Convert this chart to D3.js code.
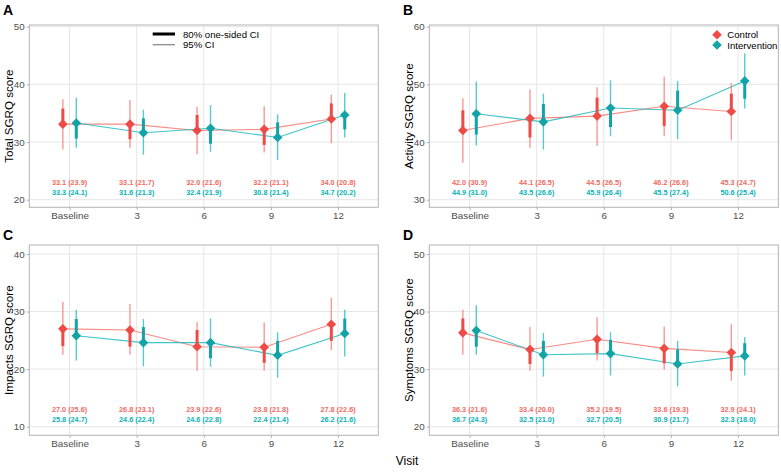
<!DOCTYPE html>
<html>
<head>
<meta charset="utf-8">
<script src="https://cdn.jsdelivr.net/npm/d3@7"></script>
<style>
  html, body { margin: 0; padding: 0; background: #ffffff; }
  svg { display: block; font-family: "Liberation Sans", Arial, Helvetica, sans-serif; }
</style>
</head>
<body>
<svg id="chart" width="781" height="472"></svg>
<script>
// ---------------- DATA ----------------
const visits = ["Baseline", "3", "6", "9", "12"];
const groups = ["Control", "Intervention"];
const legendCI = ["80% one-sided CI", "95% CI"];

// Total SGRQ
const totalCtrlMean = [33.1, 33.1, 32.0, 32.2, 34.0];
const totalCtrlSD   = [23.9, 21.7, 21.6, 21.1, 20.8];
const totalCtrlLo95 = [28.7, 29.0, 27.9, 28.2, 29.8];
const totalCtrlHi95 = [37.4, 37.3, 36.1, 36.2, 38.2];
const totalCtrl80   = [35.8, 30.5, 34.7, 29.5, 36.7];
const totalIntMean  = [33.3, 31.6, 32.4, 30.8, 34.7];
const totalIntSD    = [24.1, 21.3, 21.9, 21.4, 20.2];
const totalIntLo95  = [29.0, 27.8, 28.3, 26.9, 30.8];
const totalIntHi95  = [37.7, 35.6, 36.4, 34.8, 38.5];
const totalInt80    = [30.6, 34.1, 29.7, 33.4, 32.2];
const totalTicks    = [20, 30, 40, 50];

// Activity SGRQ
const actCtrlMean = [42.0, 44.1, 44.5, 46.2, 45.3];
const actCtrlSD   = [30.9, 26.5, 26.5, 26.6, 24.7];
const actCtrlLo95 = [36.4, 39.0, 39.3, 41.0, 40.3];
const actCtrlHi95 = [47.6, 49.1, 49.5, 51.3, 50.2];
const actCtrl80   = [45.5, 40.8, 47.7, 42.8, 48.4];
const actIntMean  = [44.9, 43.5, 45.9, 45.5, 50.6];
const actIntSD    = [31.0, 26.6, 26.4, 27.4, 25.4];
const actIntLo95  = [39.4, 38.7, 41.0, 40.5, 45.8];
const actIntHi95  = [50.5, 48.4, 50.7, 50.6, 55.4];
const actInt80    = [41.3, 46.6, 42.6, 48.9, 47.5];
const actTicks    = [30, 40, 50, 60];

// Impacts SGRQ
const impCtrlMean = [27.0, 26.8, 23.9, 23.8, 27.8];
const impCtrlSD   = [25.6, 23.1, 22.6, 21.8, 22.6];
const impCtrlLo95 = [22.5, 22.5, 19.7, 19.7, 23.3];
const impCtrlHi95 = [31.7, 31.3, 28.2, 28.1, 32.4];
const impCtrl80   = [24.0, 23.9, 26.8, 21.1, 24.9];
const impIntMean  = [25.8, 24.6, 24.6, 22.4, 26.2];
const impIntSD    = [24.7, 22.4, 22.8, 21.4, 21.6];
const impIntLo95  = [21.5, 20.5, 20.4, 18.5, 22.2];
const impIntHi95  = [30.3, 28.7, 28.8, 26.4, 30.3];
const impInt80    = [28.7, 27.3, 21.9, 24.9, 28.8];
const impTicks    = [10, 20, 30, 40];

// Symptoms SGRQ
const symCtrlMean = [36.3, 33.4, 35.2, 33.6, 32.9];
const symCtrlSD   = [21.6, 20.0, 19.5, 19.3, 24.1];
const symCtrlLo95 = [32.5, 29.7, 31.5, 29.9, 28.0];
const symCtrlHi95 = [40.3, 37.3, 39.0, 37.4, 37.8];
const symCtrl80   = [38.8, 30.9, 32.8, 31.0, 29.7];
const symIntMean  = [36.7, 32.5, 32.7, 30.9, 32.3];
const symIntSD    = [24.3, 21.0, 20.5, 21.7, 18.0];
const symIntLo95  = [32.5, 28.7, 28.9, 27.0, 28.9];
const symIntHi95  = [41.1, 36.3, 36.4, 34.9, 35.6];
const symInt80    = [33.9, 34.9, 35.1, 33.4, 34.5];
const symTicks    = [20, 30, 40, 50];

// ---------------- STYLE / LAYOUT ----------------
const colPoint = { Control: "#EF4A46", Intervention: "#11A3A6" };
const colLine  = { Control: "#F8766D", Intervention: "#1FBABD" };
const colText  = { Control: "#F26A63", Intervention: "#08B2B6" };

const panels = [
  { letter: "A", title: "Total SGRQ score", ticks: totalTicks,
    ctrl: [totalCtrlMean, totalCtrlSD, totalCtrlLo95, totalCtrlHi95, totalCtrl80],
    int:  [totalIntMean, totalIntSD, totalIntLo95, totalIntHi95, totalInt80],
    left: 29.3, right: 378.3, top: 25, bottom: 207.3, tickTopPx: 26.7, tickBotPx: 199.7, ox: 0, letterY: 15 },
  { letter: "B", title: "Activity SGRQ score", ticks: actTicks,
    ctrl: [actCtrlMean, actCtrlSD, actCtrlLo95, actCtrlHi95, actCtrl80],
    int:  [actIntMean, actIntSD, actIntLo95, actIntHi95, actInt80],
    left: 429.3, right: 778.3, top: 25, bottom: 207.3, tickTopPx: 26.7, tickBotPx: 199.7, ox: 400, letterY: 15 },
  { letter: "C", title: "Impacts SGRQ score", ticks: impTicks,
    ctrl: [impCtrlMean, impCtrlSD, impCtrlLo95, impCtrlHi95, impCtrl80],
    int:  [impIntMean, impIntSD, impIntLo95, impIntHi95, impInt80],
    left: 29.3, right: 378.3, top: 245, bottom: 435.3, tickTopPx: 254, tickBotPx: 426.7, ox: 0, letterY: 239.5 },
  { letter: "D", title: "Symptoms SGRQ score", ticks: symTicks,
    ctrl: [symCtrlMean, symCtrlSD, symCtrlLo95, symCtrlHi95, symCtrl80],
    int:  [symIntMean, symIntSD, symIntLo95, symIntHi95, symInt80],
    left: 429.3, right: 778.3, top: 245, bottom: 435.3, tickTopPx: 254, tickBotPx: 426.7, ox: 400, letterY: 239.5 }
];

const svg = d3.select("#chart");
const diamond = (s) => `M0,${-s}L${s},0L0,${s}L${-s},0Z`;

panels.forEach(p => {
  const g = svg.append("g");
  const tMin = d3.min(p.ticks), tMax = d3.max(p.ticks);
  const y = d3.scaleLinear().domain([tMin, tMax]).range([p.tickBotPx, p.tickTopPx]);
  const step = (p.right - p.left) / 5.2;
  const x = d3.scalePoint().domain(visits).range([p.left + 0.6 * step, p.right - 0.6 * step]);
  const dodge = { Control: -0.1 * step, Intervention: 0.1 * step };

  // grid
  g.selectAll(".hg").data(p.ticks).enter().append("line")
    .attr("x1", p.left).attr("x2", p.right)
    .attr("y1", d => y(d)).attr("y2", d => y(d))
    .attr("stroke", "#E6E6E6").attr("stroke-width", 1);
  g.selectAll(".vg").data(visits).enter().append("line")
    .attr("x1", d => x(d)).attr("x2", d => x(d))
    .attr("y1", p.top).attr("y2", p.bottom)
    .attr("stroke", "#E6E6E6").attr("stroke-width", 1);

  // axes
  const yAxis = d3.axisLeft(y).tickValues(p.ticks).tickSize(2.7).tickPadding(2.0);
  const ya = g.append("g").attr("transform", `translate(${p.left},0)`).call(yAxis);
  const xAxis = d3.axisBottom(x).tickSize(2.7).tickPadding(2.2);
  const xa = g.append("g").attr("transform", `translate(0,${p.bottom})`).call(xAxis);
  [ya, xa].forEach(a => {
    a.select(".domain").remove();
    a.selectAll(".tick line").attr("stroke", "#B3B3B3");
    a.selectAll(".tick text").attr("fill", "#4D4D4D")
      .style("font-size", "9.8px").style("font-family", "'Liberation Sans', Arial, sans-serif");
  });

  // border
  g.append("rect").attr("x", p.left).attr("y", p.top)
    .attr("width", p.right - p.left).attr("height", p.bottom - p.top)
    .attr("fill", "none").attr("stroke", "#B3B3B3").attr("stroke-width", 1);

  const series = [
    { name: "Control", arr: p.ctrl },
    { name: "Intervention", arr: p.int }
  ];

  // connecting lines
  series.forEach(s => {
    const pts = visits.map((v, i) => [x(v) + dodge[s.name], y(s.arr[0][i])]);
    g.append("path").attr("d", d3.line()(pts))
      .attr("fill", "none").attr("stroke", colLine[s.name])
      .attr("stroke-width", 1.1).attr("stroke-opacity", 0.85);
  });

  // thin 95% CI
  series.forEach(s => {
    g.selectAll(null).data(visits).enter().append("line")
      .attr("x1", d => x(d) + dodge[s.name]).attr("x2", d => x(d) + dodge[s.name])
      .attr("y1", (d, i) => y(s.arr[2][i])).attr("y2", (d, i) => y(s.arr[3][i]))
      .attr("stroke", colLine[s.name]).attr("stroke-width", 1.4).attr("stroke-opacity", 0.75);
  });
  // thick 80% one-sided CI
  series.forEach(s => {
    g.selectAll(null).data(visits).enter().append("line")
      .attr("x1", d => x(d) + dodge[s.name]).attr("x2", d => x(d) + dodge[s.name])
      .attr("y1", (d, i) => y(s.arr[0][i])).attr("y2", (d, i) => y(s.arr[4][i]))
      .attr("stroke", colPoint[s.name]).attr("stroke-width", 3);
  });
  // points
  series.forEach(s => {
    g.selectAll(null).data(visits).enter().append("path")
      .attr("d", diamond(4.8))
      .attr("transform", (d, i) => `translate(${x(d) + dodge[s.name]},${y(s.arr[0][i])})`)
      .attr("fill", colPoint[s.name]);
  });

  // summary text
  series.forEach((s, k) => {
    const yv = tMin + (k === 0 ? 2.95 : 1.33);
    g.selectAll(null).data(visits).enter().append("text")
      .attr("x", d => x(d)).attr("y", y(yv))
      .attr("text-anchor", "middle").attr("dominant-baseline", "central")
      .attr("fill", colText[s.name]).style("font-size", "7.3px").style("font-weight", "bold")
      .text((d, i) => `${s.arr[0][i].toFixed(1)} (${s.arr[1][i].toFixed(1)})`);
  });

  // y title
  g.append("text")
    .attr("transform", `translate(${12.8 + p.ox},${(p.top + p.bottom) / 2}) rotate(-90)`)
    .attr("text-anchor", "middle").attr("fill", "#000")
    .style("font-size", "11.6px").text(p.title);

  // panel letter
  g.append("text").attr("x", 3 + p.ox).attr("y", p.letterY)
    .style("font-size", "14px").style("font-weight", "bold").attr("fill", "#000")
    .text(p.letter);
});

// Legend A (CI line types)
const lgA = svg.append("g");
legendCI.forEach((lab, i) => {
  const yy = 34 + i * 10.7;
  lgA.append("line").attr("x1", 152.7).attr("x2", 175).attr("y1", yy).attr("y2", yy)
    .attr("stroke", i === 0 ? "#000" : "#8C8C8C").attr("stroke-width", i === 0 ? 3 : 1.3);
  lgA.append("text").attr("x", 183).attr("y", yy).attr("dominant-baseline", "central")
    .style("font-size", "9.6px").attr("fill", "#000").text(lab);
});

// Legend B (groups)
const lgB = svg.append("g");
groups.forEach((gname, i) => {
  const yy = 34.7 + i * 10.3;
  lgB.append("path").attr("d", diamond(4.8)).attr("transform", `translate(717,${yy})`)
    .attr("fill", colPoint[gname]);
  lgB.append("text").attr("x", 727.3).attr("y", yy).attr("dominant-baseline", "central")
    .style("font-size", "9.6px").attr("fill", "#000").text(gname);
});

// x title
svg.append("text").attr("x", 407).attr("y", 465).attr("text-anchor", "middle")
  .style("font-size", "12px").attr("fill", "#000").text("Visit");
</script>
</body>
</html>
